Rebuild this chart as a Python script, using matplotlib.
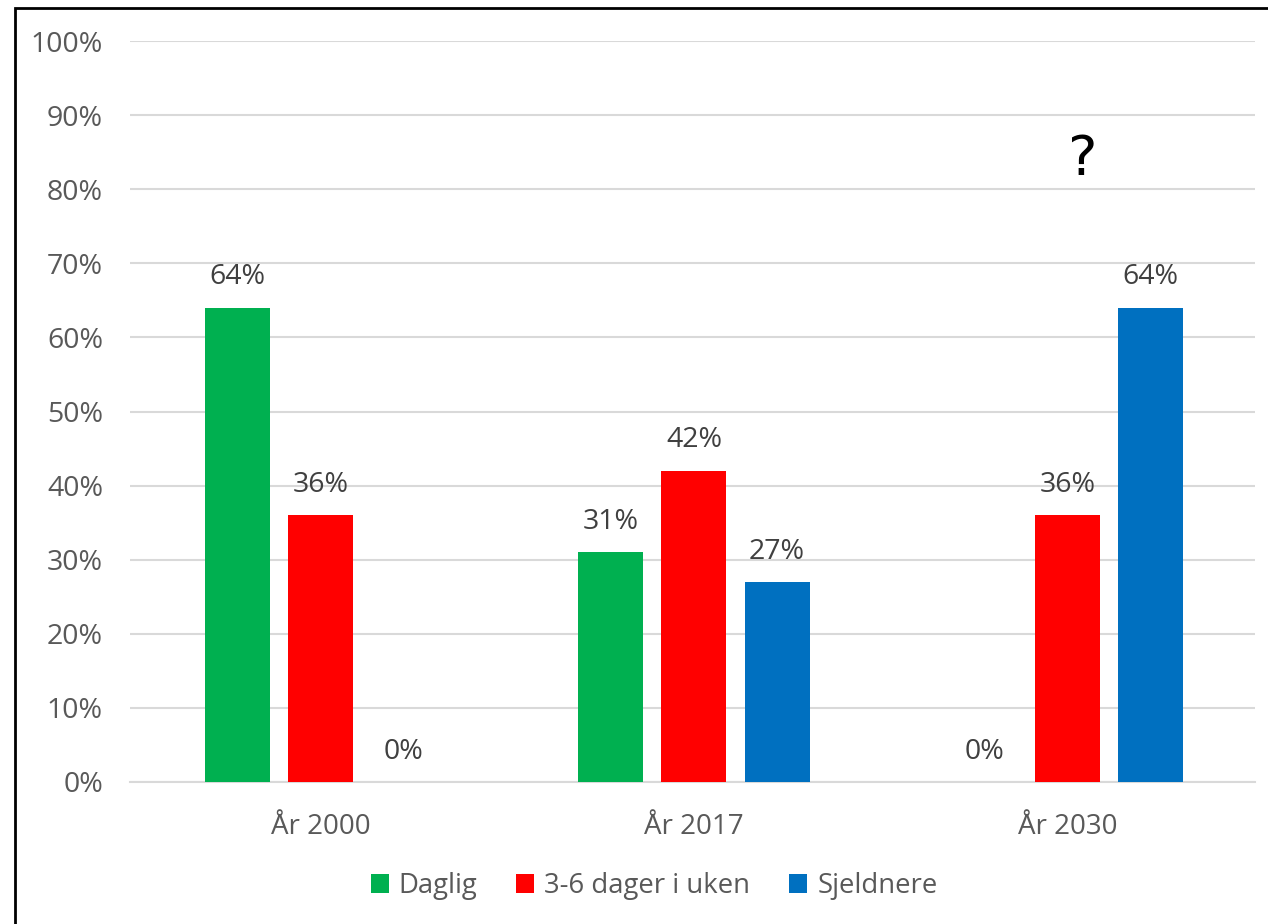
import matplotlib.pyplot as plt
from matplotlib.patches import Rectangle
import numpy as np

plt.rcParams['font.family'] = ['Open Sans', 'DejaVu Sans']

years = ['År 2000', 'År 2017', 'År 2030']
series = ['Daglig', '3-6 dager i uken', 'Sjeldnere']
daglig = [64, 31, 0]
dager_3_6 = [36, 42, 36]
sjeldnere = [0, 27, 64]
colors = ['#00b050', '#ff0000', '#0070c0']

values = [daglig, dager_3_6, sjeldnere]
grey = '#595959'

fig = plt.figure(figsize=(12.68, 9.24), dpi=100)
fig.patch.set_facecolor('white')
ax = fig.add_axes([130 / 1268, 1 - 782 / 924, 1125 / 1268, 741 / 924])

x = np.arange(len(years))
width = 0.174
step = 0.2225
for i, (name, vals, col) in enumerate(zip(series, values, colors)):
    pos = x + (i - 1) * step
    ax.bar(pos, vals, width=width, color=col, label=name, zorder=3)
    for xb, v in zip(pos, vals):
        ax.text(xb, v + 2.2 if v > 0 else 2.2, f'{v}%', ha='center', va='bottom',
                fontsize=20.5, color='#404040')

ax.set_xlim(-0.51, 2.502)
ax.set_ylim(0, 100)
ax.set_yticks(np.arange(0, 101, 10))
ax.set_yticklabels([f'{t}%' for t in range(0, 101, 10)])
ax.set_xticks(x)
ax.set_xticklabels(years)
ax.tick_params(axis='y', length=0, labelsize=20.5, colors=grey, pad=19.5)
ax.tick_params(axis='x', length=0, labelsize=20, colors=grey, pad=22)
ax.grid(axis='y', color='#d9d9d9', linewidth=1.5, zorder=0)
for s in ['top', 'right', 'left']:
    ax.spines[s].set_visible(False)
ax.spines['bottom'].set_color('#d9d9d9')
ax.spines['bottom'].set_linewidth(1.5)
ax.set_facecolor('none')

ax.text(2.04, 80.3, '?', ha='center', va='bottom', fontsize=40, color='black',
        family=['DejaVu Sans'])

leg = fig.legend(loc='center', bbox_to_anchor=(654 / 1268, 1 - 886 / 924), ncol=3, frameon=False,
                 fontsize=19.8, handlelength=0.66, handleheight=0.66, handletextpad=0.37,
                 columnspacing=1.4)
for t in leg.get_texts():
    t.set_color(grey)

# outer frame
fig.patches.append(Rectangle((15 / 1268, -0.05), 1.2, 1 - 8 / 924 + 0.05,
                             transform=fig.transFigure, fill=False,
                             edgecolor='black', linewidth=2))

fig.savefig('out.png', dpi=100, facecolor=fig.get_facecolor())
